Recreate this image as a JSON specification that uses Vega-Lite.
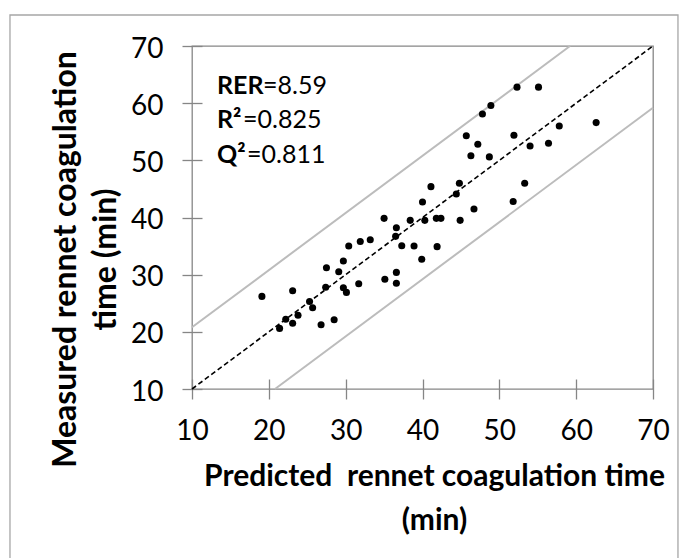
{
  "$schema": "https://vega.github.io/schema/vega-lite/v6.json",
  "autosize": "none",
  "width": 461,
  "height": 343,
  "padding": {"left": 192, "top": 46, "right": 33, "bottom": 169},
  "background": "white",
  "config": {
    "font": "Lato",
    "view": {"stroke": "#868686", "strokeWidth": 1.3},
    "axis": {
      "domain": false,
      "grid": false,
      "tickColor": "#868686",
      "tickWidth": 1.3,
      "tickSize": 20,
      "offset": -10,
      "labelFont": "Lato",
      "labelFontSize": 28,
      "labelColor": "#000000",
      "labelFlush": false,
      "labelOverlap": false,
      "titleFont": "Lato",
      "titleFontWeight": "bold",
      "titleColor": "#000000"
    },
    "text": {"font": "Lato", "fontSize": 25, "color": "#000000", "baseline": "alphabetic", "align": "left"}
  },
  "datasets": {
    "points": [
      {"predicted": 19.1, "measured": 26.2},
      {"predicted": 21.4, "measured": 20.6},
      {"predicted": 22.2, "measured": 22.2},
      {"predicted": 23.1, "measured": 27.2},
      {"predicted": 23.1, "measured": 21.5},
      {"predicted": 23.8, "measured": 22.9},
      {"predicted": 25.3, "measured": 25.3},
      {"predicted": 25.7, "measured": 24.2},
      {"predicted": 26.8, "measured": 21.25},
      {"predicted": 27.4, "measured": 27.8},
      {"predicted": 27.5, "measured": 31.2},
      {"predicted": 28.5, "measured": 22.1},
      {"predicted": 29.1, "measured": 30.5},
      {"predicted": 29.7, "measured": 32.4},
      {"predicted": 29.7, "measured": 27.7},
      {"predicted": 30.1, "measured": 26.9},
      {"predicted": 30.4, "measured": 35.0},
      {"predicted": 31.7, "measured": 28.4},
      {"predicted": 31.9, "measured": 35.8},
      {"predicted": 33.2, "measured": 36.1},
      {"predicted": 35.0, "measured": 39.85},
      {"predicted": 35.1, "measured": 29.2},
      {"predicted": 36.6, "measured": 38.2},
      {"predicted": 36.5, "measured": 36.7},
      {"predicted": 36.6, "measured": 30.4},
      {"predicted": 36.6, "measured": 28.5},
      {"predicted": 37.3, "measured": 35.05},
      {"predicted": 38.4, "measured": 39.5},
      {"predicted": 38.9, "measured": 35.0},
      {"predicted": 39.9, "measured": 32.7},
      {"predicted": 40.0, "measured": 42.7},
      {"predicted": 40.3, "measured": 39.5},
      {"predicted": 41.1, "measured": 45.4},
      {"predicted": 41.8, "measured": 39.85},
      {"predicted": 41.9, "measured": 34.9},
      {"predicted": 42.4, "measured": 39.85},
      {"predicted": 44.4, "measured": 44.1},
      {"predicted": 44.8, "measured": 46.0},
      {"predicted": 44.9, "measured": 39.5},
      {"predicted": 45.7, "measured": 54.3},
      {"predicted": 46.3, "measured": 50.8},
      {"predicted": 46.7, "measured": 41.5},
      {"predicted": 47.2, "measured": 52.8},
      {"predicted": 47.8, "measured": 58.1},
      {"predicted": 48.7, "measured": 50.6},
      {"predicted": 48.9, "measured": 59.6},
      {"predicted": 51.8, "measured": 42.8},
      {"predicted": 51.9, "measured": 54.4},
      {"predicted": 52.3, "measured": 62.8},
      {"predicted": 53.3, "measured": 46.0},
      {"predicted": 54.0, "measured": 52.5},
      {"predicted": 55.1, "measured": 62.8},
      {"predicted": 56.4, "measured": 53.0},
      {"predicted": 57.8, "measured": 56.0},
      {"predicted": 62.6, "measured": 56.6}
    ],
    "bands": [
      {"line": "upper", "predicted": 10, "measured": 20.8},
      {"line": "upper", "predicted": 59.2, "measured": 70},
      {"line": "lower", "predicted": 20.8, "measured": 10},
      {"line": "lower", "predicted": 70, "measured": 59.2}
    ],
    "diag": [
      {"predicted": 10, "measured": 10},
      {"predicted": 70, "measured": 70}
    ]
  },
  "layer": [
    {
      "data": {"name": "bands"},
      "mark": {"type": "line", "color": "#bcbcbc", "strokeWidth": 2},
      "encoding": {
        "x": {
          "field": "predicted",
          "type": "quantitative",
          "scale": {"domain": [10, 70], "nice": false, "zero": false},
          "axis": {
            "values": [10, 20, 30, 40, 50, 60, 70],
            "labelPadding": 18,
            "title": ["Predicted\u00a0 rennet coagulation time", "(min)"],
            "titleFontSize": 30,
            "titleLineHeight": 44,
            "titlePadding": 16,
            "titleX": 242
          }
        },
        "y": {
          "field": "measured",
          "type": "quantitative",
          "scale": {"domain": [10, 70], "nice": false, "zero": false},
          "axis": {
            "values": [10, 20, 30, 40, 50, 60, 70],
            "labelPadding": 19,
            "labelOffset": 3,
            "title": ["Measured rennet coagulation", "time (min)"],
            "titleFontSize": 32,
            "titleLineHeight": 40,
            "titlePadding": 8,
            "titleY": 213
          }
        },
        "detail": {"field": "line"}
      }
    },
    {
      "data": {"name": "diag"},
      "mark": {"type": "line", "color": "#000000", "strokeWidth": 1.6, "strokeDash": [5, 3]},
      "encoding": {
        "x": {"field": "predicted", "type": "quantitative"},
        "y": {"field": "measured", "type": "quantitative"}
      }
    },
    {
      "data": {"name": "points"},
      "mark": {"type": "point", "filled": true, "color": "#000000", "opacity": 1, "size": 50},
      "encoding": {
        "x": {"field": "predicted", "type": "quantitative"},
        "y": {"field": "measured", "type": "quantitative"}
      }
    },
    {
      "data": {"values": [{"t": "RER"}]},
      "mark": {"type": "text", "fontWeight": "bold"},
      "encoding": {"x": {"datum": 13.25, "type": "quantitative"}, "y": {"datum": 61.6, "type": "quantitative"}, "text": {"field": "t"}}
    },
    {
      "data": {"values": [{"t": "=8.59"}]},
      "mark": {"type": "text"},
      "encoding": {"x": {"datum": 19.24, "type": "quantitative"}, "y": {"datum": 61.6, "type": "quantitative"}, "text": {"field": "t"}}
    },
    {
      "data": {"values": [{"t": "R²"}]},
      "mark": {"type": "text", "fontWeight": "bold"},
      "encoding": {"x": {"datum": 13.25, "type": "quantitative"}, "y": {"datum": 55.6, "type": "quantitative"}, "text": {"field": "t"}}
    },
    {
      "data": {"values": [{"t": "=0.825"}]},
      "mark": {"type": "text"},
      "encoding": {"x": {"datum": 16.64, "type": "quantitative"}, "y": {"datum": 55.6, "type": "quantitative"}, "text": {"field": "t"}}
    },
    {
      "data": {"values": [{"t": "Q²"}]},
      "mark": {"type": "text", "fontWeight": "bold"},
      "encoding": {"x": {"datum": 13.25, "type": "quantitative"}, "y": {"datum": 49.6, "type": "quantitative"}, "text": {"field": "t"}}
    },
    {
      "data": {"values": [{"t": "=0.811"}]},
      "mark": {"type": "text"},
      "encoding": {"x": {"datum": 17.16, "type": "quantitative"}, "y": {"datum": 49.6, "type": "quantitative"}, "text": {"field": "t"}}
    },
    {
      "data": {"values": [{"frame": "chart area"}]},
      "mark": {"type": "rect", "fillOpacity": 0, "stroke": "#a6a6a6", "strokeWidth": 1.3, "clip": false},
      "encoding": {
        "x": {"datum": -13.69, "type": "quantitative"},
        "x2": {"datum": 73.25},
        "y": {"datum": 75.42, "type": "quantitative"},
        "y2": {"datum": -19.91}
      }
    }
  ]
}
